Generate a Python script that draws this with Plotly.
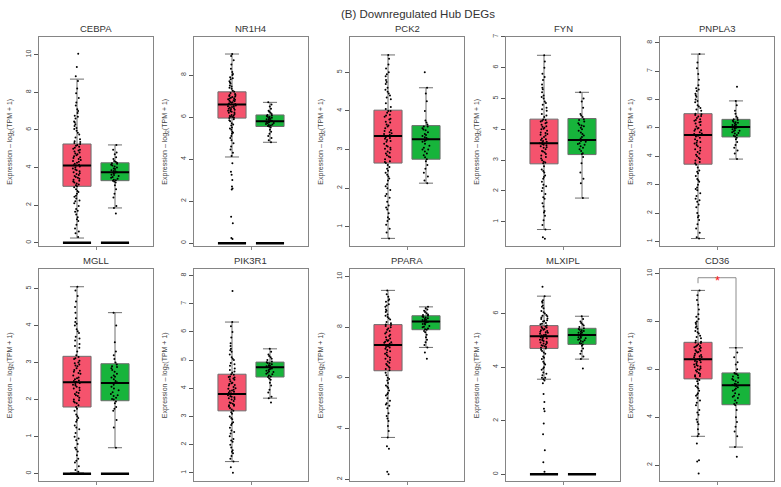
import plotly.graph_objects as go

W, H = 781, 487

genes = ["CEBPA", "NR1H4", "PCK2", "FYN", "PNPLA3", "MGLL", "PIK3R1", "PPARA", "MLXIPL", "CD36"]

# ---- box statistics (tumor / normal) ----
t_lower = [0.25, 4.10, 0.70, 0.75, 1.10, 0.02, 1.40, 3.65, 3.55, 3.20]
t_q1    = [3.00, 5.95, 2.65, 2.88, 3.72, 1.80, 3.20, 6.28, 4.70, 5.60]
t_med   = [4.10, 6.60, 3.35, 3.55, 4.75, 2.47, 3.80, 7.30, 5.15, 6.42]
t_q3    = [5.25, 7.20, 4.02, 4.33, 5.50, 3.17, 4.50, 8.10, 5.55, 7.13]
t_upper = [8.70, 9.00, 5.45, 6.40, 7.60, 5.05, 6.35, 9.45, 6.65, 9.30]

n_lower = [1.85, 4.80, 2.13, 1.77, 3.90, 0.70, 3.65, 7.20, 4.30, 2.75]
n_q1    = [3.30, 5.55, 2.75, 3.18, 4.68, 1.97, 4.40, 7.90, 4.85, 4.52]
n_med   = [3.75, 5.80, 3.27, 3.65, 5.03, 2.45, 4.75, 8.22, 5.20, 5.33]
n_q3    = [4.25, 6.10, 3.62, 4.35, 5.30, 2.97, 4.93, 8.45, 5.45, 5.85]
n_upper = [5.20, 6.70, 4.60, 5.20, 5.95, 4.35, 5.40, 8.80, 5.90, 6.90]

# ---- sample points ----
cebpa_t = [10.05, 9.35, 8.85, 8.6, 8.2, 7.95, 7.7, 7.45, 7.3, 7.1, 6.9, 6.75, 6.6, 6.45, 6.3, 6.2, 6.05, 5.95,
           5.85, 5.75, 5.6, 5.5, 5.4, 5.35, 5.25, 5.15, 5.05, 4.95, 4.9, 4.8, 4.7, 4.65, 4.55, 4.45, 4.4, 4.3,
           4.2, 4.15, 4.1, 4.05, 3.95, 3.85, 3.8, 3.7, 3.6, 3.55, 3.45, 3.35, 3.3, 3.2, 3.1, 3.05, 2.95, 2.85,
           2.7, 2.6, 2.5, 2.35, 2.2, 2.1, 1.95, 1.8, 1.65, 1.5, 1.35, 1.15, 0.95, 0.75, 0.5, 0.3,
           5.3, 5.2, 5.1, 5.0, 4.85, 4.75, 4.6, 4.5, 4.35, 4.25, 4.12, 4.0, 3.9, 3.75, 3.65, 3.5, 3.4, 3.25,
           3.15, 3.0, 6.1, 6.4, 6.7, 7.0, 2.75, 2.45, 2.25, 1.7, 1.25, 0.6]
cebpa_n = [5.2, 4.95, 4.8, 4.7, 4.55, 4.45, 4.35, 4.25, 4.2, 4.1, 4.0, 3.95, 3.85, 3.8, 3.75, 3.7, 3.6, 3.5,
           3.45, 3.35, 3.3, 3.2, 3.05, 2.85, 2.6, 2.4, 1.95, 1.85, 1.55,
           4.22, 4.15, 4.05, 3.92, 3.82, 3.72, 3.62, 3.55, 3.4, 3.32, 4.3, 3.25]
nr1h4_t = [9.0, 8.9, 8.7, 8.5, 8.3, 8.15, 8.0, 7.9, 7.8, 7.7, 7.6, 7.5, 7.4, 7.35, 7.25, 7.2, 7.1, 7.05, 7.0,
           6.95, 6.9, 6.85, 6.8, 6.75, 6.7, 6.65, 6.6, 6.55, 6.5, 6.45, 6.4, 6.35, 6.3, 6.25, 6.2, 6.1, 6.05,
           6.0, 5.95, 5.9, 5.8, 5.7, 5.6, 5.5, 5.4, 5.3, 5.2, 5.1, 5.0, 4.9, 4.75, 4.6, 4.45, 4.3, 4.15, 3.8,
           3.4, 3.25, 3.0, 2.7, 2.6, 2.55, 1.25, 0.95, 0.25, 0.2,
           7.15, 7.05, 6.98, 6.92, 6.88, 6.82, 6.78, 6.72, 6.68, 6.62, 6.58, 6.52, 6.48, 6.42, 6.38, 6.32,
           6.28, 6.22, 6.15, 6.08, 6.02, 5.97, 7.45, 7.65, 7.85, 8.05, 5.85, 5.65, 5.45, 5.25]
nr1h4_n = [6.7, 6.6, 6.5, 6.4, 6.3, 6.2, 6.15, 6.1, 6.05, 6.0, 5.95, 5.9, 5.85, 5.8, 5.78, 5.75, 5.7, 5.65,
           5.6, 5.55, 5.5, 5.4, 5.3, 5.2, 5.1, 5.0, 4.9, 4.8,
           6.08, 6.02, 5.97, 5.92, 5.87, 5.82, 5.77, 5.72, 5.67, 5.62, 5.57, 6.25]
pck2_t = [5.45, 5.35, 5.2, 5.1, 5.0, 4.9, 4.8, 4.7, 4.6, 4.5, 4.45, 4.35, 4.3, 4.2, 4.1, 4.05, 4.0, 3.9, 3.85,
          3.8, 3.7, 3.65, 3.6, 3.5, 3.45, 3.4, 3.35, 3.3, 3.25, 3.2, 3.1, 3.05, 3.0, 2.95, 2.9, 2.85, 2.8, 2.7,
          2.65, 2.6, 2.55, 2.5, 2.4, 2.35, 2.25, 2.2, 2.1, 2.0, 1.95, 1.85, 1.75, 1.65, 1.55, 1.45, 1.35, 1.25,
          1.15, 1.05, 0.95, 0.85, 0.7,
          4.0, 3.95, 3.88, 3.78, 3.72, 3.62, 3.55, 3.48, 3.42, 3.38, 3.32, 3.28, 3.22, 3.15, 3.08, 3.02,
          2.92, 2.82, 2.75, 2.68, 4.4, 4.55, 4.75, 4.95, 2.45, 2.3, 2.05, 1.8, 1.5, 1.2]
pck2_n = [5.0, 4.6, 4.45, 4.25, 4.0, 3.75, 3.7, 3.6, 3.55, 3.5, 3.4, 3.35, 3.3, 3.25, 3.2, 3.15, 3.05, 3.0,
          2.9, 2.85, 2.75, 2.7, 2.6, 2.5, 2.4, 2.3, 2.2, 2.13,
          3.6, 3.52, 3.45, 3.38, 3.32, 3.27, 3.22, 3.1, 2.95, 2.8, 3.65, 3.0]
fyn_t = [6.4, 6.2, 6.0, 5.8, 5.7, 5.6, 5.45, 5.3, 5.2, 5.1, 5.0, 4.9, 4.8, 4.7, 4.6, 4.5, 4.45, 4.4, 4.3, 4.25,
         4.2, 4.1, 4.05, 4.0, 3.9, 3.85, 3.8, 3.7, 3.65, 3.6, 3.55, 3.5, 3.45, 3.4, 3.3, 3.25, 3.2, 3.1, 3.0,
         2.95, 2.9, 2.8, 2.7, 2.6, 2.5, 2.4, 2.3, 2.2, 2.1, 2.0, 1.9, 1.75, 1.6, 1.5, 1.35, 1.2, 1.05, 0.9,
         0.75, 0.5, 0.45,
         4.32, 4.28, 4.22, 4.15, 4.08, 4.02, 3.95, 3.88, 3.82, 3.75, 3.68, 3.62, 3.58, 3.52, 3.48, 3.42,
         3.35, 3.28, 3.15, 3.05, 2.92, 4.65, 4.85, 5.05, 5.35, 2.65, 2.45, 2.15, 1.8, 1.3]
fyn_n = [5.2, 5.0, 4.9, 4.7, 4.5, 4.4, 4.3, 4.2, 4.15, 4.1, 4.0, 3.9, 3.85, 3.8, 3.7, 3.65, 3.6, 3.55, 3.5,
         3.4, 3.3, 3.2, 3.1, 2.9, 2.6, 2.4, 2.25, 1.77,
         4.33, 4.25, 4.12, 4.05, 3.95, 3.75, 3.62, 3.52, 3.45, 3.35, 3.22, 4.45]
pnpla3_t = [7.6, 7.3, 7.1, 6.9, 6.7, 6.5, 6.4, 6.3, 6.2, 6.1, 6.0, 5.9, 5.8, 5.7, 5.65, 5.6, 5.5, 5.45, 5.4,
            5.3, 5.25, 5.2, 5.1, 5.0, 4.95, 4.9, 4.8, 4.75, 4.7, 4.6, 4.5, 4.45, 4.4, 4.3, 4.2, 4.1, 4.0, 3.9,
            3.85, 3.8, 3.7, 3.6, 3.5, 3.4, 3.3, 3.2, 3.1, 3.0, 2.9, 2.8, 2.7, 2.6, 2.5, 2.4, 2.3, 2.2, 2.0,
            1.9, 1.75, 1.6, 1.45, 1.3, 1.15, 1.1,
            5.48, 5.42, 5.35, 5.28, 5.22, 5.15, 5.05, 4.98, 4.92, 4.85, 4.78, 4.72, 4.65, 4.55, 4.48, 4.35,
            4.25, 4.15, 4.05, 3.95, 3.75, 5.75, 5.95, 6.15, 6.35, 3.45, 3.15, 2.85, 2.45, 1.85]
pnpla3_n = [6.45, 5.95, 5.8, 5.6, 5.5, 5.4, 5.35, 5.3, 5.25, 5.2, 5.15, 5.1, 5.05, 5.0, 4.95, 4.9, 4.85, 4.8,
            4.75, 4.7, 4.6, 4.5, 4.4, 4.3, 4.2, 4.1, 3.9,
            5.28, 5.22, 5.18, 5.12, 5.08, 5.02, 4.98, 4.92, 4.88, 4.82, 4.72, 4.65]
mgll_t = [5.05, 4.95, 4.8, 4.65, 4.5, 4.35, 4.2, 4.1, 4.0, 3.9, 3.8, 3.7, 3.6, 3.5, 3.4, 3.3, 3.2, 3.15, 3.1,
          3.0, 2.95, 2.9, 2.8, 2.75, 2.7, 2.6, 2.55, 2.5, 2.45, 2.4, 2.35, 2.3, 2.2, 2.15, 2.1, 2.0, 1.95, 1.9,
          1.8, 1.75, 1.7, 1.6, 1.5, 1.45, 1.4, 1.3, 1.2, 1.1, 1.0, 0.9, 0.8, 0.7, 0.6, 0.5, 0.4, 0.3, 0.2, 0.1,
          0.05,
          3.12, 3.05, 2.98, 2.92, 2.85, 2.78, 2.72, 2.65, 2.58, 2.52, 2.48, 2.42, 2.38, 2.32, 2.25, 2.18,
          2.12, 2.05, 1.98, 1.92, 1.85, 3.45, 3.65, 3.85, 4.05, 1.55, 1.25, 0.95, 0.65, 0.35]
mgll_n = [4.35, 4.0, 3.55, 3.3, 3.2, 3.0, 2.9, 2.85, 2.8, 2.7, 2.65, 2.6, 2.5, 2.45, 2.4, 2.3, 2.2, 2.15, 2.1,
          2.05, 2.0, 1.9, 1.8, 1.75, 1.7, 1.45, 1.25, 0.7,
          2.95, 2.88, 2.75, 2.62, 2.55, 2.47, 2.35, 2.25, 2.12, 2.02, 3.1, 1.95]
pik3r1_t = [7.45, 6.35, 6.2, 6.0, 5.8, 5.6, 5.5, 5.4, 5.3, 5.2, 5.1, 5.0, 4.9, 4.8, 4.7, 4.6, 4.55, 4.5, 4.4,
            4.35, 4.3, 4.2, 4.15, 4.1, 4.0, 3.95, 3.9, 3.85, 3.8, 3.75, 3.7, 3.65, 3.6, 3.5, 3.45, 3.4, 3.35,
            3.3, 3.2, 3.15, 3.1, 3.0, 2.9, 2.8, 2.7, 2.6, 2.5, 2.4, 2.3, 2.2, 2.1, 2.0, 1.9, 1.8, 1.7, 1.6,
            1.5, 1.4, 1.2, 1.0,
            4.48, 4.42, 4.38, 4.32, 4.25, 4.18, 4.12, 4.05, 3.98, 3.92, 3.88, 3.82, 3.78, 3.72, 3.68, 3.62,
            3.55, 3.48, 3.42, 3.38, 3.25, 4.65, 4.85, 5.05, 5.35, 2.95, 2.75, 2.45, 2.15, 1.75]
pik3r1_n = [5.4, 5.3, 5.2, 5.1, 5.05, 5.0, 4.95, 4.9, 4.85, 4.8, 4.75, 4.7, 4.65, 4.6, 4.55, 4.5, 4.45, 4.4,
            4.3, 4.2, 4.1, 3.95, 3.85, 3.7, 3.65, 3.5,
            4.92, 4.88, 4.82, 4.78, 4.72, 4.68, 4.62, 4.58, 4.52, 4.42, 5.15, 4.35]
ppara_t = [9.45, 9.3, 9.2, 9.1, 9.0, 8.9, 8.8, 8.7, 8.6, 8.5, 8.4, 8.35, 8.3, 8.2, 8.15, 8.1, 8.0, 7.9, 7.8,
           7.7, 7.6, 7.5, 7.45, 7.4, 7.35, 7.3, 7.25, 7.2, 7.1, 7.0, 6.9, 6.8, 6.7, 6.6, 6.5, 6.45, 6.4, 6.3,
           6.2, 6.1, 6.0, 5.9, 5.8, 5.7, 5.6, 5.5, 5.4, 5.3, 5.2, 5.1, 5.0, 4.9, 4.8, 4.6, 4.4, 4.3, 4.1, 3.9,
           3.65, 3.3, 3.2, 2.3, 2.2,
           8.08, 8.05, 7.95, 7.85, 7.75, 7.65, 7.55, 7.48, 7.42, 7.38, 7.32, 7.28, 7.22, 7.15, 7.05, 6.95,
           6.85, 6.75, 6.65, 6.55, 6.35, 8.45, 8.65, 8.85, 9.05, 5.95, 5.65, 5.35, 4.95, 4.5]
ppara_n = [8.8, 8.75, 8.7, 8.6, 8.55, 8.5, 8.45, 8.4, 8.35, 8.3, 8.25, 8.2, 8.15, 8.1, 8.05, 8.0, 7.95, 7.9,
           7.8, 7.7, 7.6, 7.5, 7.4, 7.3, 7.2, 7.0, 6.75,
           8.42, 8.38, 8.32, 8.28, 8.22, 8.18, 8.12, 8.02, 7.92, 8.48, 8.65, 7.85]
mlxipl_t = [7.0, 6.65, 6.5, 6.4, 6.3, 6.2, 6.1, 6.0, 5.95, 5.9, 5.85, 5.8, 5.75, 5.7, 5.65, 5.6, 5.55, 5.5,
            5.45, 5.4, 5.35, 5.3, 5.25, 5.2, 5.15, 5.1, 5.05, 5.0, 4.95, 4.9, 4.85, 4.8, 4.75, 4.7, 4.65, 4.6,
            4.5, 4.4, 4.3, 4.2, 4.1, 4.0, 3.9, 3.8, 3.7, 3.6, 3.55, 3.5, 3.4, 3.0, 2.7, 2.45, 2.35, 1.9, 1.5,
            0.9, 0.45, 0.1,
            5.52, 5.48, 5.42, 5.38, 5.32, 5.28, 5.22, 5.18, 5.12, 5.08, 5.02, 4.98, 4.92, 4.88, 4.82, 4.78,
            4.72, 5.62, 5.72, 5.82, 5.92, 6.05, 6.25, 6.45, 4.55, 4.35, 4.15, 3.95, 3.75, 3.6]
mlxipl_n = [5.9, 5.8, 5.7, 5.6, 5.55, 5.5, 5.45, 5.4, 5.35, 5.3, 5.25, 5.2, 5.15, 5.1, 5.05, 5.0, 4.95, 4.9,
            4.85, 4.8, 4.7, 4.6, 4.5, 4.4, 4.3, 3.95,
            5.42, 5.38, 5.32, 5.28, 5.22, 5.18, 5.12, 5.08, 5.02, 4.98, 4.88, 5.65]
cd36_t = [9.3, 9.1, 8.9, 8.7, 8.5, 8.3, 8.2, 8.1, 8.0, 7.9, 7.8, 7.7, 7.6, 7.5, 7.4, 7.3, 7.2, 7.15, 7.1, 7.0,
          6.95, 6.9, 6.8, 6.75, 6.7, 6.6, 6.55, 6.5, 6.45, 6.4, 6.35, 6.3, 6.2, 6.15, 6.1, 6.0, 5.95, 5.9, 5.8,
          5.75, 5.7, 5.6, 5.55, 5.5, 5.4, 5.3, 5.2, 5.1, 5.0, 4.9, 4.8, 4.7, 4.5, 4.3, 4.1, 3.9, 3.7, 3.5, 3.3,
          3.2, 2.9, 2.2, 2.15, 1.65,
          7.12, 7.05, 6.98, 6.92, 6.85, 6.78, 6.72, 6.65, 6.58, 6.52, 6.42, 6.38, 6.32, 6.25, 6.18, 6.12,
          6.05, 5.98, 5.85, 5.72, 5.62, 7.35, 7.55, 7.75, 7.95, 5.25, 4.95, 4.6, 4.2, 3.8]
cd36_n = [6.9, 6.7, 6.5, 6.3, 6.2, 6.0, 5.85, 5.8, 5.7, 5.6, 5.5, 5.4, 5.35, 5.3, 5.2, 5.1, 5.0, 4.9, 4.8, 4.7,
          4.6, 4.5, 4.3, 4.0, 3.8, 3.6, 3.4, 3.2, 2.75, 2.35,
          5.82, 5.75, 5.65, 5.55, 5.45, 5.38, 5.32, 5.25, 5.15, 4.95, 4.85, 4.55]

tumor_points = [cebpa_t, nr1h4_t, pck2_t, fyn_t, pnpla3_t, mgll_t, pik3r1_t, ppara_t, mlxipl_t, cd36_t]
normal_points = [cebpa_n, nr1h4_n, pck2_n, fyn_n, pnpla3_n, mgll_n, pik3r1_n, ppara_n, mlxipl_n, cd36_n]

# genes with a cluster of zero-expression samples (black bar at 0)
zero_genes = ["CEBPA", "NR1H4", "MGLL", "MLXIPL"]
zero_value = 0

# significance marker
sig_gene = "CD36"
sig_y = 9.83
sig_left_end = 9.6
sig_right_end = 6.95

# axis settings
y_ranges = [[-0.2, 10.95], [-0.16, 9.82], [0.49, 5.92], [0.2, 7.0], [0.82, 8.21],
            [-0.2, 5.52], [0.71, 8.22], [1.93, 10.28], [-0.25, 7.65], [1.33, 10.18]]
y_dticks = [2, 2, 1, 1, 1, 1, 1, 2, 2, 2]

# ---- layout geometry (pixels) ----
col_left = [39, 194, 350, 506, 660]
panel_w = 114
row_top = [34, 268]
row_bot = [245, 481]

TUMOR_COLOR = "#F5536D"
NORMAL_COLOR = "#17B43B"
BOX_W = 0.74
FONT = "Liberation Sans, Arial, sans-serif"
TRANSP = "rgba(0,0,0,0)"

fig = go.Figure()
layout = dict(width=W, height=H, margin=dict(l=0, r=0, t=0, b=0),
              paper_bgcolor="white", plot_bgcolor="white", boxmode="overlay",
              showlegend=False, font=dict(family=FONT, color="#333"))
annotations = []
shapes = []

for i, g in enumerate(genes):
    r, c = divmod(i, 5)
    xd = [col_left[c] / W, (col_left[c] + panel_w) / W]
    yd = [1 - row_bot[r] / H, 1 - row_top[r] / H]
    sfx = "" if i == 0 else str(i + 1)
    xa, ya = "x" + sfx, "y" + sfx
    layout["xaxis" + sfx] = dict(domain=xd, anchor=ya, range=[0, 3], showline=True, mirror=True,
                                 linecolor="#858585", linewidth=1, showgrid=False, zeroline=False,
                                 tickvals=[1.5], showticklabels=False, ticks="outside", ticklen=3,
                                 tickcolor="#858585", fixedrange=True)
    layout["yaxis" + sfx] = dict(domain=yd, anchor=xa, range=y_ranges[i], dtick=y_dticks[i],
                                 tick0=0, showline=True, mirror=True, linecolor="#858585",
                                 linewidth=1, showgrid=False, zeroline=False, ticks="outside",
                                 ticklen=4, tickcolor="#555", tickangle=-90,
                                 tickfont=dict(size=7, color="#444"), fixedrange=True)

    groups = [
        (1, TUMOR_COLOR, t_lower[i], t_q1[i], t_med[i], t_q3[i], t_upper[i], tumor_points[i]),
        (2, NORMAL_COLOR, n_lower[i], n_q1[i], n_med[i], n_q3[i], n_upper[i], normal_points[i]),
    ]
    for xpos, col, lo, q1, med, q3, up, pts in groups:
        fig.add_trace(go.Box(x=[xpos], q1=[q1], median=[med], q3=[q3], lowerfence=[lo], upperfence=[up],
                             width=BOX_W, fillcolor=col, line=dict(color="#6e6e6e", width=1),
                             whiskerwidth=0.5, boxpoints=False, xaxis=xa, yaxis=ya, hoverinfo="skip"))
        fig.add_trace(go.Box(x=[xpos] * len(pts), y=pts, boxpoints="all", jitter=0.3, pointpos=0,
                             width=BOX_W, fillcolor=TRANSP, line=dict(color=TRANSP, width=0),
                             whiskerwidth=0, marker=dict(size=2, color="black"),
                             xaxis=xa, yaxis=ya, hoverinfo="skip"))
        fig.add_trace(go.Box(x=[xpos], q1=[med], median=[med], q3=[med], lowerfence=[med], upperfence=[med],
                             width=BOX_W, fillcolor=TRANSP, line=dict(color="black", width=2),
                             whiskerwidth=0, boxpoints=False, xaxis=xa, yaxis=ya, hoverinfo="skip"))
        if g in zero_genes:
            z = zero_value
            fig.add_trace(go.Box(x=[xpos], q1=[z], median=[z], q3=[z], lowerfence=[z], upperfence=[z],
                                 width=BOX_W, fillcolor=TRANSP, line=dict(color="black", width=2.5),
                                 whiskerwidth=0, boxpoints=False, xaxis=xa, yaxis=ya, hoverinfo="skip"))

    # panel title
    annotations.append(dict(text=g, x=(xd[0] + xd[1]) / 2, y=yd[1], xref="paper", yref="paper",
                            xanchor="center", yanchor="bottom", yshift=1, showarrow=False,
                            font=dict(size=9.5, color="#333")))
    # y-axis title
    annotations.append(dict(text="Expression \u2013 log<sub>2</sub>(TPM + 1)", x=xd[0], y=(yd[0] + yd[1]) / 2,
                            xref="paper", yref="paper", xanchor="center", yanchor="middle",
                            xshift=-29, textangle=-90, showarrow=False,
                            font=dict(size=7, color="#444")))

    if g == sig_gene:
        lc = dict(color="#8c8c8c", width=1)
        shapes.append(dict(type="line", xref=xa, yref=ya, x0=1, x1=1, y0=sig_left_end, y1=sig_y, line=lc))
        shapes.append(dict(type="line", xref=xa, yref=ya, x0=1, x1=2, y0=sig_y, y1=sig_y, line=lc))
        shapes.append(dict(type="line", xref=xa, yref=ya, x0=2, x1=2, y0=sig_y, y1=sig_right_end, line=lc))
        annotations.append(dict(text="*", x=1.5, y=sig_y, xref=xa, yref=ya, showarrow=False,
                                xanchor="center", yanchor="middle", yshift=-3,
                                font=dict(size=13, color="#ff2020")))

annotations.append(dict(text="(B) Downregulated Hub DEGs", x=418 / W, y=1 - 11 / H, xref="paper",
                        yref="paper", xanchor="center", yanchor="middle", showarrow=False,
                        font=dict(size=11.5, color="#333")))

layout["annotations"] = annotations
layout["shapes"] = shapes
fig.update_layout(**layout)
fig.write_html("out.html")
